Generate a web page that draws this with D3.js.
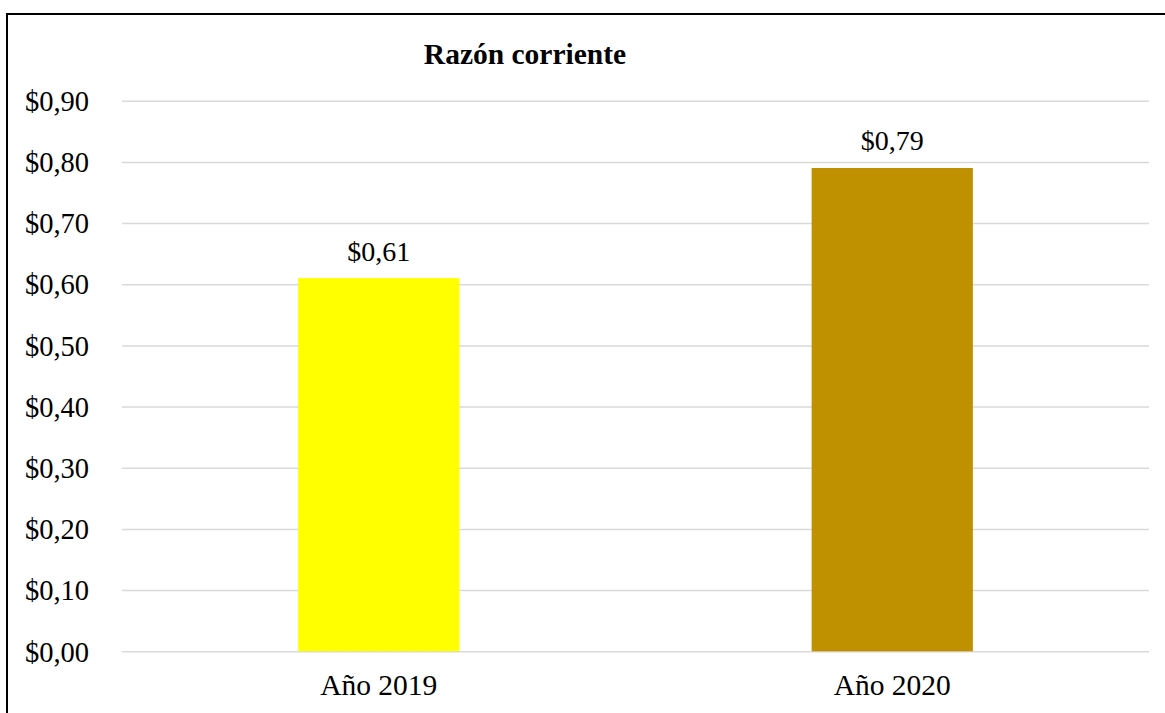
<!DOCTYPE html>
<html>
<head>
<meta charset="utf-8">
<script src="https://cdn.jsdelivr.net/npm/d3@7"></script>
<style>
  html, body { margin: 0; padding: 0; background: #fff; }
  svg { display: block; }
  text { font-family: "Liberation Serif", "Times New Roman", serif; fill: #000; }
</style>
</head>
<body>
<svg id="chart" width="1165" height="713"></svg>
<script>
// data
const categories = ['Año 2019', 'Año 2020']
const values = [0.61, 0.79]
const barColors = ['#FFFF00', '#BF9000']
const yTicks = [0, 0.1, 0.2, 0.3, 0.4, 0.5, 0.6, 0.7, 0.8, 0.9]
const title = 'Razón corriente'

const width = 1165
const height = 713
const plot = { left: 122, right: 1149, top: 100.7, bottom: 651.3 }

const locale = d3.formatLocale({ decimal: ',', thousands: '.', grouping: [3], currency: ['$', ''] })
const fmt = locale.format('$.2f')

const svg = d3.select('#chart')

// outer frame (continues past the right and bottom edges)
svg.append('rect')
  .attr('x', 7).attr('y', 14)
  .attr('width', width + 20).attr('height', height + 20)
  .attr('fill', 'none')
  .attr('stroke', '#000')
  .attr('stroke-width', 2)

const x = d3.scaleBand()
  .domain(categories)
  .range([plot.left, plot.right])
  .paddingInner(0.686)
  .paddingOuter(0.343)

const y = d3.scaleLinear()
  .domain([0, 0.9])
  .range([plot.bottom, plot.top])

// gridlines + y labels
const yAxis = d3.axisLeft(y)
  .tickValues(yTicks)
  .tickSize(-(plot.right - plot.left))
  .tickPadding(33)
  .tickFormat(fmt)

svg.append('g')
  .attr('transform', `translate(${plot.left},0)`)
  .call(yAxis)
  .call(g => g.select('.domain').remove())
  .call(g => g.selectAll('.tick line').attr('stroke', '#d9d9d9').attr('stroke-width', 1.5))
  .call(g => g.selectAll('.tick text')
    .attr('font-size', 28.5)
    .attr('dy', '0.34em')
    .style('font-family', '"Liberation Serif", "Times New Roman", serif'))

// bars
svg.append('g').selectAll('rect')
  .data(values)
  .join('rect')
  .attr('x', (d, i) => x(categories[i]))
  .attr('y', d => y(d))
  .attr('width', x.bandwidth())
  .attr('height', d => y(0) - y(d))
  .attr('fill', (d, i) => barColors[i])

// value labels
svg.append('g').selectAll('text')
  .data(values)
  .join('text')
  .attr('x', (d, i) => x(categories[i]) + x.bandwidth() / 2)
  .attr('y', d => y(d) - 17.5)
  .attr('text-anchor', 'middle')
  .attr('font-size', 28)
  .text(d => fmt(d))

// x labels
const xAxis = d3.axisBottom(x).tickSize(0).tickPadding(0)
svg.append('g')
  .attr('transform', `translate(0,${plot.bottom})`)
  .call(xAxis)
  .call(g => g.select('.domain').remove())
  .call(g => g.selectAll('.tick text')
    .attr('font-size', 29.5)
    .attr('dy', null)
    .attr('y', 43.5)
    .style('font-family', '"Liberation Serif", "Times New Roman", serif'))

// title
svg.append('text')
  .attr('x', 525)
  .attr('y', 64)
  .attr('text-anchor', 'middle')
  .attr('font-size', 29.5)
  .attr('font-weight', 'bold')
  .text(title)
</script>
</body>
</html>
